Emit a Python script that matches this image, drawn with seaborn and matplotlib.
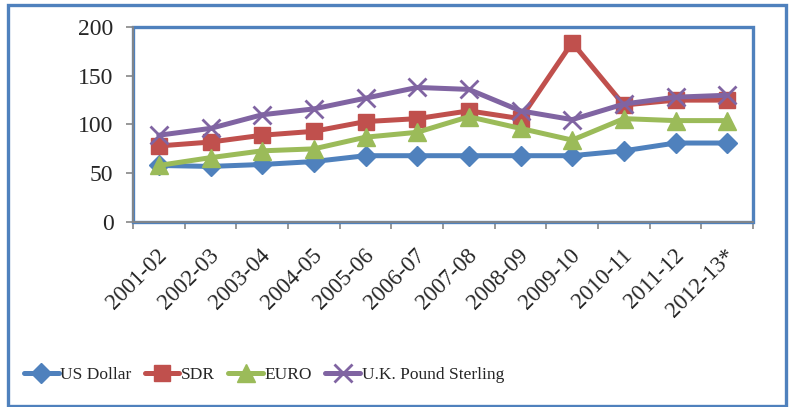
import matplotlib
matplotlib.use("Agg")
import numpy as np
import pandas as pd
import matplotlib.pyplot as plt
import matplotlib.transforms as mtransforms
from matplotlib.patches import Rectangle
from matplotlib.ticker import FixedLocator, MultipleLocator, NullFormatter
import seaborn as sns

# Financial years on the category axis
years = ["2001-02", "2002-03", "2003-04", "2004-05", "2005-06", "2006-07",
         "2007-08", "2008-09", "2009-10", "2010-11", "2011-12", "2012-13*"]

# Series values per year
us_dollar = [58, 57, 59, 62, 68, 68, 68, 68, 68, 73, 81, 81]
sdr = [78, 82, 89, 93, 103, 106, 114, 106, 184, 120, 125, 125]
euro = [58, 66, 73, 75, 87, 92, 108, 96, 84, 106, 104, 104]
pound_sterling = [89, 96, 110, 116, 127, 138, 136, 114, 105, 121, 128, 130]

series_names = ["US Dollar", "SDR", "EURO", "U.K. Pound Sterling"]
series_values = [us_dollar, sdr, euro, pound_sterling]

colors = ["#4F81BD", "#C0504D", "#9BBB59", "#8064A2"]
markers = ["D", "s", "^", "x"]
marker_sizes = [10, 12, 12.5, 12.5]
edge_widths = [1.0, 1.0, 1.0, 2.0]

df = pd.DataFrame({
    "Year": years * len(series_names),
    "Position": list(range(len(years))) * len(series_names),
    "Value": [v for vals in series_values for v in vals],
    "Series": [n for n in series_names for _ in years],
})

sns.set_theme(style="white")
plt.rcParams["font.family"] = ["Liberation Serif", "DejaVu Serif"]

W, H = 790, 407
fig, ax = plt.subplots(figsize=(W / 100, H / 100), dpi=100)
fig.subplots_adjust(left=133 / W, right=753 / W, top=1 - 27 / H, bottom=1 - 222 / H)

handles = []
for name, color, m, ms, mew in zip(series_names, colors, markers, marker_sizes, edge_widths):
    sub = df[df["Series"] == name]
    sns.lineplot(data=sub, x="Position", y="Value", ax=ax, color=color,
                 marker=m, markersize=ms, markeredgewidth=mew,
                 markeredgecolor=color, markerfacecolor=color,
                 linewidth=3.6, errorbar=None, legend=False)
    handles.append(ax.lines[-1])

# Axes limits and ticks
ax.set_xlim(-0.5, len(years) - 0.5)
ax.set_ylim(0, 200)
ax.yaxis.set_major_locator(MultipleLocator(50))
ax.xaxis.set_major_locator(FixedLocator(np.arange(-0.5, len(years), 1.0)))
ax.xaxis.set_major_formatter(NullFormatter())
ax.set_xticks(range(len(years)), years, minor=True)
ax.set_xlabel("")
ax.set_ylabel("")

axis_gray = "#868686"
ax.tick_params(axis="x", which="major", bottom=True, length=5, width=1.2,
               color=axis_gray, direction="out")
ax.tick_params(axis="x", which="minor", bottom=True, length=0, pad=22, labelsize=16.5)
ax.tick_params(axis="y", which="major", left=True, length=5, width=1.2,
               color=axis_gray, direction="out", pad=9, labelsize=17)

offset = mtransforms.ScaledTranslation(5 / 100, 0, fig.dpi_scale_trans)
for lab in ax.get_xticklabels(minor=True):
    lab.set_rotation(45)
    lab.set_ha("right")
    lab.set_va("center")
    lab.set_rotation_mode("anchor")
    lab.set_transform(lab.get_transform() + offset)

# Plot-area border and axis lines
for side in ["top", "right"]:
    ax.spines[side].set_visible(False)
for side in ["left", "bottom"]:
    ax.spines[side].set_color(axis_gray)
    ax.spines[side].set_linewidth(1.3)
    ax.spines[side].set_zorder(5)
ax.add_patch(Rectangle((0, 0), 1, 1, transform=ax.transAxes, fill=False,
                       edgecolor="#4F81BD", linewidth=2.4, clip_on=False, zorder=4))

# Outer chart frame
fig.patches.append(Rectangle((8 / W, 1 / H), (786 - 8) / W, (401) / H,
                             transform=fig.transFigure, fill=False,
                             edgecolor="#4F81BD", linewidth=2.4))

fig.legend(handles, series_names, loc="center left",
           bbox_to_anchor=(24 / W, 1 - 375 / H), ncol=4, frameon=False,
           handlelength=2.0, handletextpad=0.1, columnspacing=0.75,
           fontsize=12.5, borderaxespad=0, borderpad=0)

fig.savefig("out.png", dpi=100)
